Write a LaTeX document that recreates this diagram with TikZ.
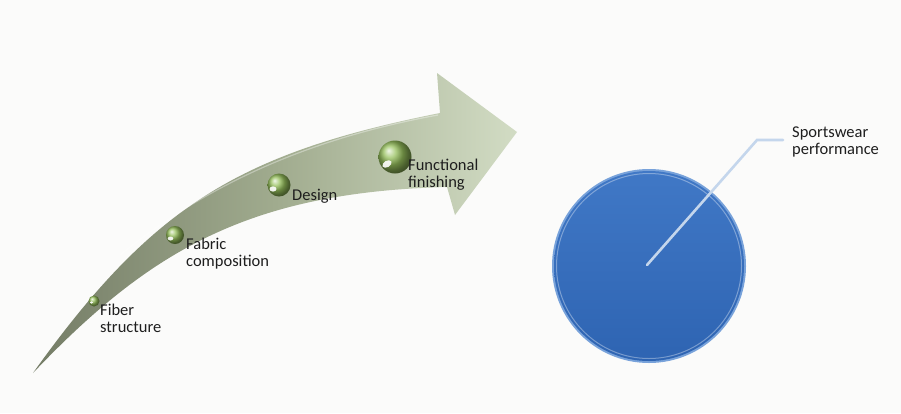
\documentclass[tikz,border=0pt]{standalone}
\usepackage{fontspec}
\setmainfont{Carlito}
\usetikzlibrary{shadings}
\definecolor{bg}{RGB}{251,251,250}
\definecolor{shaftdark}{RGB}{116,124,102}
\definecolor{shaftmid}{RGB}{160,171,142}
\definecolor{shaftlight}{RGB}{210,220,196}
\definecolor{ballgreen}{RGB}{150,192,92}
\definecolor{bluetop}{RGB}{64,120,198}
\definecolor{bluebot}{RGB}{46,100,178}
\definecolor{bluerim}{RGB}{120,162,218}
\definecolor{leader}{RGB}{196,214,236}
\definecolor{txt}{RGB}{30,30,30}
\tikzset{
  lbl/.style={anchor=base west, align=left, inner sep=0pt, text=txt,
    font=\fontsize{16.5}{17.5}\selectfont},
  bead/.style={circle, inner sep=0pt, shading=ball, ball color=ballgreen},
  glint/.style={fill=white, opacity=0.9},
}
\begin{document}
\begin{tikzpicture}[x=1pt,y=-1pt]
\useasboundingbox[fill=bg] (0,0) rectangle (901,413);
% curved arrow
\path[left color=shaftdark, right color=shaftlight, middle color=shaftmid]
  (33,373) .. controls (153,205) and (240,153) .. (440,113)
  -- (437,73) -- (517,132) -- (455,215) -- (447,187)
  .. controls (250,192) and (150,250) .. (33,373) -- cycle;
% soft highlight along upper edge
\draw[white, opacity=0.35, line width=1.2pt]
  (120,255) .. controls (200,190) and (300,140) .. (438,115);
% beads
\node[bead, minimum size=11pt] (b1) at (94,301) {};
\node[bead, minimum size=18pt] (b2) at (175,235) {};
\node[bead, minimum size=23pt] (b3) at (279,185) {};
\node[bead, minimum size=33pt] (b4) at (395,157) {};
\fill[glint] (91.5,302.5) ellipse (1.6 and 1.2);
\fill[glint] (170.5,238.5) ellipse (2.8 and 2);
\fill[glint] (273,189) ellipse (3.5 and 2.6);
\fill[glint, rotate around={30:(387,164)}] (387,164) ellipse (5 and 3.2);
% labels (base anchor = last line)
\node[lbl] (t1) at (100,332.5) {Fiber\\structure};
\node[lbl] (t2) at (186,266.5) {Fabric\\composition};
\node[lbl] (t3) at (292,200) {Design};
\node[lbl] (t4) at (408,187.5) {Functional\\finishing};
% blue disc
\fill[bluerim] (649,266) circle (97);
\shade[top color=bluetop, bottom color=bluebot] (649,266) circle (95);
\draw[white, opacity=0.35, line width=1pt] (649,266) circle (92.5);
\coordinate (c) at (647,265);
\coordinate (k) at (757,140);
\node[lbl] (t5) at (792,154.5) {Sportswear\\performance};
\draw[leader, line width=2.6pt, line cap=round] (c) -- (k) -- (783,140);
\end{tikzpicture}
\end{document}
